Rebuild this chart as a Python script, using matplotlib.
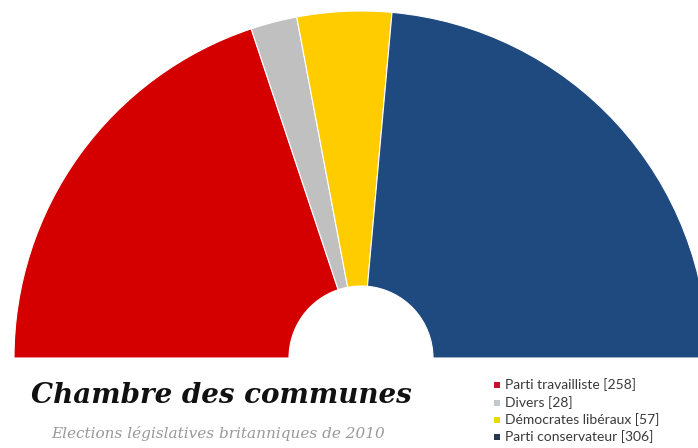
import matplotlib
matplotlib.use("Agg")
import matplotlib.pyplot as plt

parties = ["Parti travailliste", "Divers", "Démocrates libéraux", "Parti conservateur"]
seats = [258, 28, 57, 306]
colors = ["#D40000", "#C0C0C0", "#FFCC00", "#1F4A80"]
legend_colors = ["#C8102E", "#C4C8CC", "#E6DC00", "#26384F"]
title = "Chambre des communes"
subtitle = "Elections législatives britanniques de 2010"

W, H = 698, 448
fig = plt.figure(figsize=(W / 100, H / 100), dpi=100)
ax = fig.add_axes([0, 0, 1, 1])

total = sum(seats)
cx, cy = 361, 90
R, r_in = 347, 72
vals = seats + [total]
cols = colors + ["none"]
wedges, _ = ax.pie(vals, colors=cols, startangle=180, counterclock=False,
                   center=(cx, cy), radius=R, frame=True,
                   wedgeprops=dict(width=R - r_in, edgecolor="white", linewidth=0.8))
wedges[-1].set_visible(False)
ax.set_xlim(0, W)
ax.set_ylim(0, H)
ax.set_aspect("auto")
ax.axis("off")

ax.text(221, 53, title, fontsize=20, fontweight="bold", fontstyle="italic",
        family="DejaVu Serif", color="#111111", ha="center", va="center")
ax.text(218, 15, subtitle, fontsize=11, fontstyle="italic",
        family="DejaVu Serif", color="#999999", ha="center", va="center")

ys = [63, 45, 28, 11]
for name, n, c, y in zip(parties, seats, legend_colors, ys):
    ax.scatter([497], [y], marker="s", s=20, color=c, zorder=5, linewidths=0)
    ax.text(505, y, f"{name} [{n}]", fontsize=10, family="Lato", color="#3a3a3a",
            ha="left", va="center")

fig.savefig("out.png", dpi=100)
